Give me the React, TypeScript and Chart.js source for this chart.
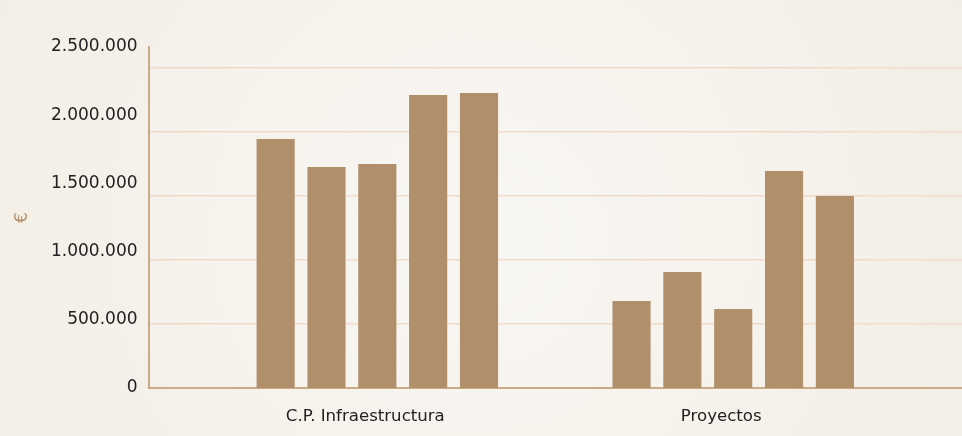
import React, { useEffect, useRef } from "react";
import { Chart, registerables } from "chart.js";

Chart.register(...registerables);

// Two budget groups, five bars each
const CATEGORIES = ["C.P. Infraestructura", "Proyectos"];
const SERIES_1 = [1825000, 637000];
const SERIES_2 = [1620000, 850000];
const SERIES_3 = [1642000, 579000];
const SERIES_4 = [2148000, 1591000];
const SERIES_5 = [2163000, 1408000];
const Y_TICKS = [0, 500000, 1000000, 1500000, 2000000, 2500000];
const Y_TITLE = "€";

const BAR_COLOR = "#b08f6a";
const AXIS_COLOR = "#c9ab88";
const GRID_COLOR = "#eddccb";
const TEXT_COLOR = "#222222";
const FONT = "'DejaVu Sans', sans-serif";

const formatEs = (v: number) =>
  String(Math.round(v)).replace(/\B(?=(\d{3})+(?!\d))/g, ".");

const backgroundPlugin = {
  id: "paperBackground",
  beforeDraw(chart: any) {
    const { ctx, width, height } = chart;
    ctx.save();
    const g = ctx.createRadialGradient(width * 0.5, height * 0.55, 60, width * 0.5, height * 0.5, width * 0.7);
    g.addColorStop(0, "#f8f6f2");
    g.addColorStop(1, "#f2ece2");
    ctx.fillStyle = g;
    ctx.fillRect(0, 0, width, height);
    ctx.restore();
  },
};

export default function App() {
  const canvasRef = useRef<HTMLCanvasElement | null>(null);

  useEffect(() => {
    if (!canvasRef.current) return;
    const seriesList = [SERIES_1, SERIES_2, SERIES_3, SERIES_4, SERIES_5];
    const chart = new Chart(canvasRef.current, {
      type: "bar",
      data: {
        datasets: seriesList.map((s, i) => ({
          label: `Serie ${i + 1}`,
          data: s.map((v, j) => ({ x: j + 1, y: v })),
          backgroundColor: BAR_COLOR,
          borderWidth: 0,
          categoryPercentage: 5 / 7,
          barPercentage: 0.75,
          yAxisID: "y",
        })),
      },
      options: {
        responsive: false,
        animation: false,
        layout: { padding: { left: 12.6, top: 47, right: 0, bottom: 9 } },
        plugins: { legend: { display: false }, tooltip: { enabled: false } },
        scales: {
          x: {
            type: "linear",
            offset: false,
            min: 1 - 4.5 / 7,
            max: CATEGORIES.length + 4.5 / 7,
            afterBuildTicks: (scale: any) => {
              scale.ticks = CATEGORIES.map((_, i) => ({ value: i + 1 }));
            },
            afterFit: (scale: any) => {
              scale.height = 39;
            },
            grid: { display: false, drawTicks: false },
            border: { display: true, color: AXIS_COLOR, width: 2 },
            ticks: {
              padding: 19,
              labelOffset: -12,
              color: TEXT_COLOR,
              font: { family: FONT, size: 16.6 },
              callback: (v: any) => CATEGORIES[Number(v) - 1] ?? "",
              maxRotation: 0,
            },
          },
          y: {
            type: "linear",
            position: "left",
            min: Y_TICKS[0],
            max: Y_TICKS[Y_TICKS.length - 1],
            afterBuildTicks: (scale: any) => {
              scale.ticks = Y_TICKS.map((v) => ({ value: v }));
            },
            grid: { display: false, drawTicks: false },
            border: { display: true, color: AXIS_COLOR, width: 2 },
            ticks: {
              padding: 11,
              color: TEXT_COLOR,
              font: { family: FONT, size: 17 },
              callback: (v: any) => formatEs(Number(v)),
            },
            title: {
              display: true,
              text: Y_TITLE,
              color: BAR_COLOR,
              font: { family: FONT, size: 17 },
              padding: { top: 0, bottom: 7 },
            },
          },
          // background rule lines, spaced independently of the value ticks
          yGrid: {
            type: "linear",
            position: "right",
            min: 0,
            max: 341 / 64,
            afterBuildTicks: (scale: any) => {
              scale.ticks = [0, 1, 2, 3, 4, 5].map((v) => ({ value: v }));
            },
            grid: { display: true, color: GRID_COLOR, lineWidth: 1.5, drawTicks: false },
            border: { display: false },
            ticks: { display: false },
          },
        },
      },
      plugins: [backgroundPlugin],
    });
    return () => chart.destroy();
  }, []);

  return (
    <div style={{ position: "fixed", left: 0, top: 0, width: 962, height: 436 }}>
      <canvas ref={canvasRef} width={962} height={436} />
    </div>
  );
}
